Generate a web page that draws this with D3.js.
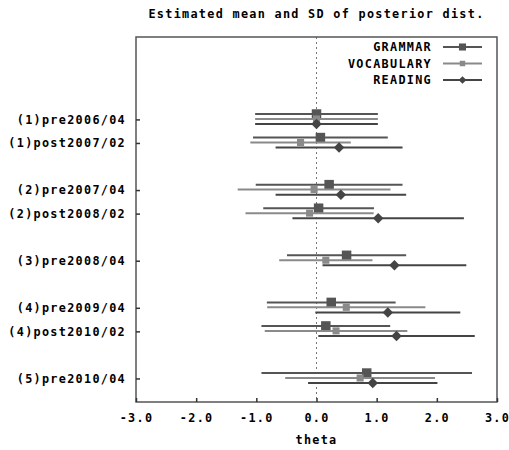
<!DOCTYPE html>
<html>
<head>
<meta charset="utf-8">
<script src="https://cdn.jsdelivr.net/npm/d3@7"></script>
<style>
  body { margin: 0; background: #fff; }
  text { font-family: 'DejaVu Sans Mono', monospace; font-weight: bold; font-size: 11.8px; letter-spacing: 1.3px; fill: #000; }
</style>
</head>
<body>
<svg id="chart"></svg>
<script>
// categories (top to bottom) and their slot on the y axis
var categories = ['(1)pre2006/04', '(1)post2007/02', '(2)pre2007/04', '(2)post2008/02',
                  '(3)pre2008/04', '(4)pre2009/04', '(4)post2010/02', '(5)pre2010/04'];
var slots = [1, 2, 4, 5, 7, 9, 10, 12];

var seriesNames = ['GRAMMAR', 'VOCABULARY', 'READING'];

// estimated means
var grammarMean    = [0.00, 0.065, 0.21, 0.035, 0.50, 0.245, 0.155, 0.835];
var vocabularyMean = [0.00, -0.265, -0.04, -0.115, 0.155, 0.495, 0.325, 0.725];
var readingMean    = [0.00, 0.375, 0.405, 1.025, 1.295, 1.185, 1.33, 0.935];

// estimated SDs
var grammarSD    = [1.02, 1.12, 1.22, 0.92, 0.99, 1.07, 1.07, 1.75];
var vocabularySD = [1.02, 0.835, 1.27, 1.065, 0.775, 1.315, 1.185, 1.245];
var readingSD    = [1.02, 1.055, 1.085, 1.425, 1.195, 1.205, 1.30, 1.075];

var xTicks = [-3, -2, -1, 0, 1, 2, 3];

var width = 509, height = 450;
var margin = { top: 37, left: 136, bottom: 48, right: 12 };

var svg = d3.select('#chart')
    .attr('width', width)
    .attr('height', height);

var x = d3.scaleLinear().domain([-3, 3]).range([margin.left, width - margin.right]);
var y = d3.scaleLinear().domain([-2.5, 13]).range([margin.top, height - margin.bottom]);

// rot = 45 turns the square into a gnuplot-style diamond
var series = [
    { name: seriesNames[0], mean: grammarMean, sd: grammarSD, color: '#555', size: 90, legSize: 50, rot: 0, off: -0.23 },
    { name: seriesNames[1], mean: vocabularyMean, sd: vocabularySD, color: '#8a8a8a', size: 50, legSize: 30, rot: 0, off: -0.02 },
    { name: seriesNames[2], mean: readingMean, sd: readingSD, color: '#444', size: 55, legSize: 30, rot: 45, off: 0.195 }
];

// dotted zero line
svg.append('line')
    .attr('x1', x(0)).attr('x2', x(0))
    .attr('y1', y(-2.5)).attr('y2', y(13))
    .attr('stroke', '#777')
    .attr('stroke-width', 1)
    .attr('stroke-dasharray', '2,3');

// error bars + markers
series.forEach(s => {
    var g = svg.append('g');
    var rows = categories.map((c, i) => ({ pos: slots[i] + s.off, m: s.mean[i], sd: s.sd[i] }));

    g.selectAll('line')
        .data(rows)
        .enter()
        .append('line')
        .attr('x1', d => x(d.m - d.sd))
        .attr('x2', d => x(d.m + d.sd))
        .attr('y1', d => y(d.pos))
        .attr('y2', d => y(d.pos))
        .attr('stroke', s.color)
        .attr('stroke-width', 2);

    g.selectAll('path')
        .data(rows)
        .enter()
        .append('path')
        .attr('d', d3.symbol().type(d3.symbolSquare).size(s.size))
        .attr('transform', d => 'translate(' + x(d.m) + ',' + y(d.pos) + ') rotate(' + s.rot + ')')
        .attr('fill', s.color);
});

// frame
svg.append('rect')
    .attr('x', x(-3)).attr('y', y(-2.5))
    .attr('width', x(3) - x(-3))
    .attr('height', y(13) - y(-2.5))
    .attr('fill', 'none')
    .attr('stroke', '#555')
    .attr('stroke-width', 1.5);

// axes
var xAxis = d3.axisBottom(x).tickValues(xTicks).tickSizeInner(-4).tickSizeOuter(0).tickPadding(12);
svg.append('g')
    .attr('transform', 'translate(0,' + y(13) + ')')
    .call(xAxis)
    .call(g => g.select('.domain').remove())
    .call(g => g.selectAll('line').attr('stroke', '#333').attr('stroke-width', 1.5))
    .call(g => g.selectAll('text').attr('font-size', null).attr('font-family', null).text(d => d.toFixed(1)));

var yAxis = d3.axisLeft(y).tickValues(slots).tickFormat((d, i) => categories[i]).tickSizeInner(-4).tickSizeOuter(0).tickPadding(10);
svg.append('g')
    .attr('transform', 'translate(' + x(-3) + ',0)')
    .call(yAxis)
    .call(g => g.select('.domain').remove())
    .call(g => g.selectAll('line').attr('stroke', '#333').attr('stroke-width', 1.5))
    .call(g => g.selectAll('text').attr('font-size', null).attr('font-family', null));

// title and axis label
svg.append('text')
    .attr('x', (x(-3) + x(3)) / 2)
    .attr('y', 18)
    .attr('text-anchor', 'middle')
    .text('Estimated mean and SD of posterior dist.');

svg.append('text')
    .attr('x', x(0))
    .attr('y', 444)
    .attr('text-anchor', 'middle')
    .text('theta');

// legend
var legend = svg.append('g');
series.forEach((s, i) => {
    var ly = 47 + i * 16.5;
    legend.append('text')
        .attr('x', 432)
        .attr('y', ly)
        .attr('dy', '0.35em')
        .attr('text-anchor', 'end')
        .text(s.name);
    legend.append('line')
        .attr('x1', 443).attr('x2', 482)
        .attr('y1', ly).attr('y2', ly)
        .attr('stroke', s.color)
        .attr('stroke-width', 2);
    legend.append('path')
        .attr('d', d3.symbol().type(d3.symbolSquare).size(s.legSize))
        .attr('transform', 'translate(462.5,' + ly + ') rotate(' + s.rot + ')')
        .attr('fill', s.color);
});
</script>
</body>
</html>
